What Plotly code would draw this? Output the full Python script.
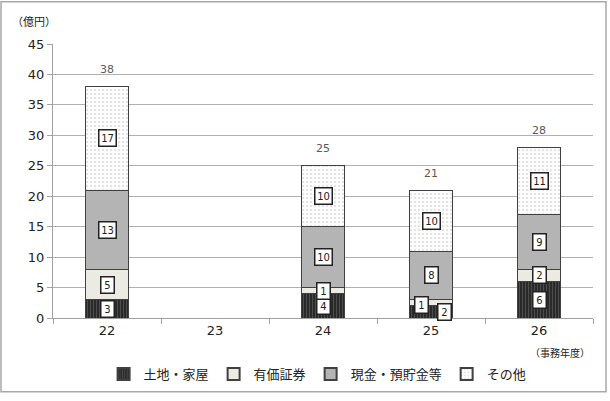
import plotly.graph_objects as go

years = ["22", "23", "24", "25", "26"]
land = [3, None, 4, 2, 6]
securities = [5, None, 1, 1, 2]
cash = [13, None, 10, 8, 9]
other = [17, None, 10, 10, 11]
names = ["土地・家屋", "有価証券", "現金・預貯金等", "その他"]

W, H = 610, 401
L, R, T, B = 53, 17, 44, 78
pw, ph = W - L - R, H - T - B

JP = "Noto Sans CJK JP"
NUM = "DejaVu Sans"

fig = go.Figure()
series = [land, securities, cash, other]
styles = [
    dict(color="#333333", pattern=dict(shape="|", fgcolor="#707070", bgcolor="#2a2a2a", size=3, solidity=0.35)),
    dict(color="#ecebe3"),
    dict(color="#b4b4b4"),
    dict(color="#ffffff", pattern=dict(shape=".", fgcolor="#c8c8c8", bgcolor="#ffffff", size=4, solidity=0.3)),
]
for name, vals, st in zip(names, series, styles):
    fig.add_trace(go.Bar(
        x=years, y=vals, name=name,
        marker=dict(**st, line=dict(color="#404040", width=1)),
    ))

# segment labels (x given as category index)
offsets = {("25", 0): (13, 0), ("25", 1): (-10, -2)}
for i, yr in enumerate(years):
    base = 0
    present = [v[i] for v in series if v[i] is not None]
    for k, vals in enumerate(series):
        v = vals[i]
        if v is None:
            continue
        xs, ys = offsets.get((yr, k), (0, 0))
        fig.add_annotation(
            x=i, y=base + v / 2, text=str(v), showarrow=False,
            xshift=xs, yshift=ys,
            font=dict(family=NUM, size=10, color="#222222"),
            bgcolor="white", bordercolor="#222222", borderwidth=1.5, borderpad=1,
            width=10 if v < 10 else 14, height=13,
        )
        base += v
    if present:
        fig.add_annotation(
            x=i, y=sum(present), text=str(sum(present)), showarrow=False, yshift=17,
            font=dict(family=NUM, size=11, color="#595959"),
        )

fig.add_annotation(xref="paper", yref="paper", x=(10 - L) / pw, y=(T - 21) / ph + 1,
                   text="（億円）", showarrow=False, xanchor="left", yanchor="middle",
                   font=dict(family=JP, size=11, color="#222222"))
fig.add_annotation(xref="paper", yref="paper", x=(592 - L) / pw, y=-(358 - T - ph) / ph,
                   text="（事務年度）", showarrow=False, xanchor="right", yanchor="middle",
                   font=dict(family=JP, size=10, color="#222222"))

# outer border
fig.add_shape(type="rect", xref="paper", yref="paper",
              x0=(1 - L) / pw, x1=(606 - L) / pw,
              y0=(T + ph - 398) / ph, y1=(T + ph - 1) / ph,
              line=dict(color="#a8a8a8", width=1.5), layer="below")

fig.update_layout(
    width=W, height=H, margin=dict(l=L, r=R, t=T, b=B),
    barmode="stack", bargap=0.61,
    plot_bgcolor="white", paper_bgcolor="white",
    showlegend=True,
    legend=dict(orientation="h", x=0.49, xanchor="center", y=-(380 - T - ph) / ph, yanchor="middle",
                font=dict(family=JP, size=13, color="#222222"), traceorder="normal",
                itemwidth=30, itemsizing="constant", tracegroupgap=0),
    xaxis=dict(type="category", range=[-0.5, 4.5], showgrid=False, showline=True,
               linecolor="#a0a0a0", linewidth=1,
               ticks="outside", tickson="boundaries", ticklen=5, tickcolor="#a0a0a0",
               tickangle=0,
               tickfont=dict(family=NUM, size=13, color="#222222")),
    yaxis=dict(range=[0, 45], dtick=5, showgrid=True, gridcolor="#b0b0b0", gridwidth=1,
               showline=True, linecolor="#a0a0a0", ticks="outside", ticklen=5, tickcolor="#a0a0a0",
               zeroline=False,
               tickfont=dict(family=NUM, size=13, color="#222222")),
)

fig.write_html("out.html")
